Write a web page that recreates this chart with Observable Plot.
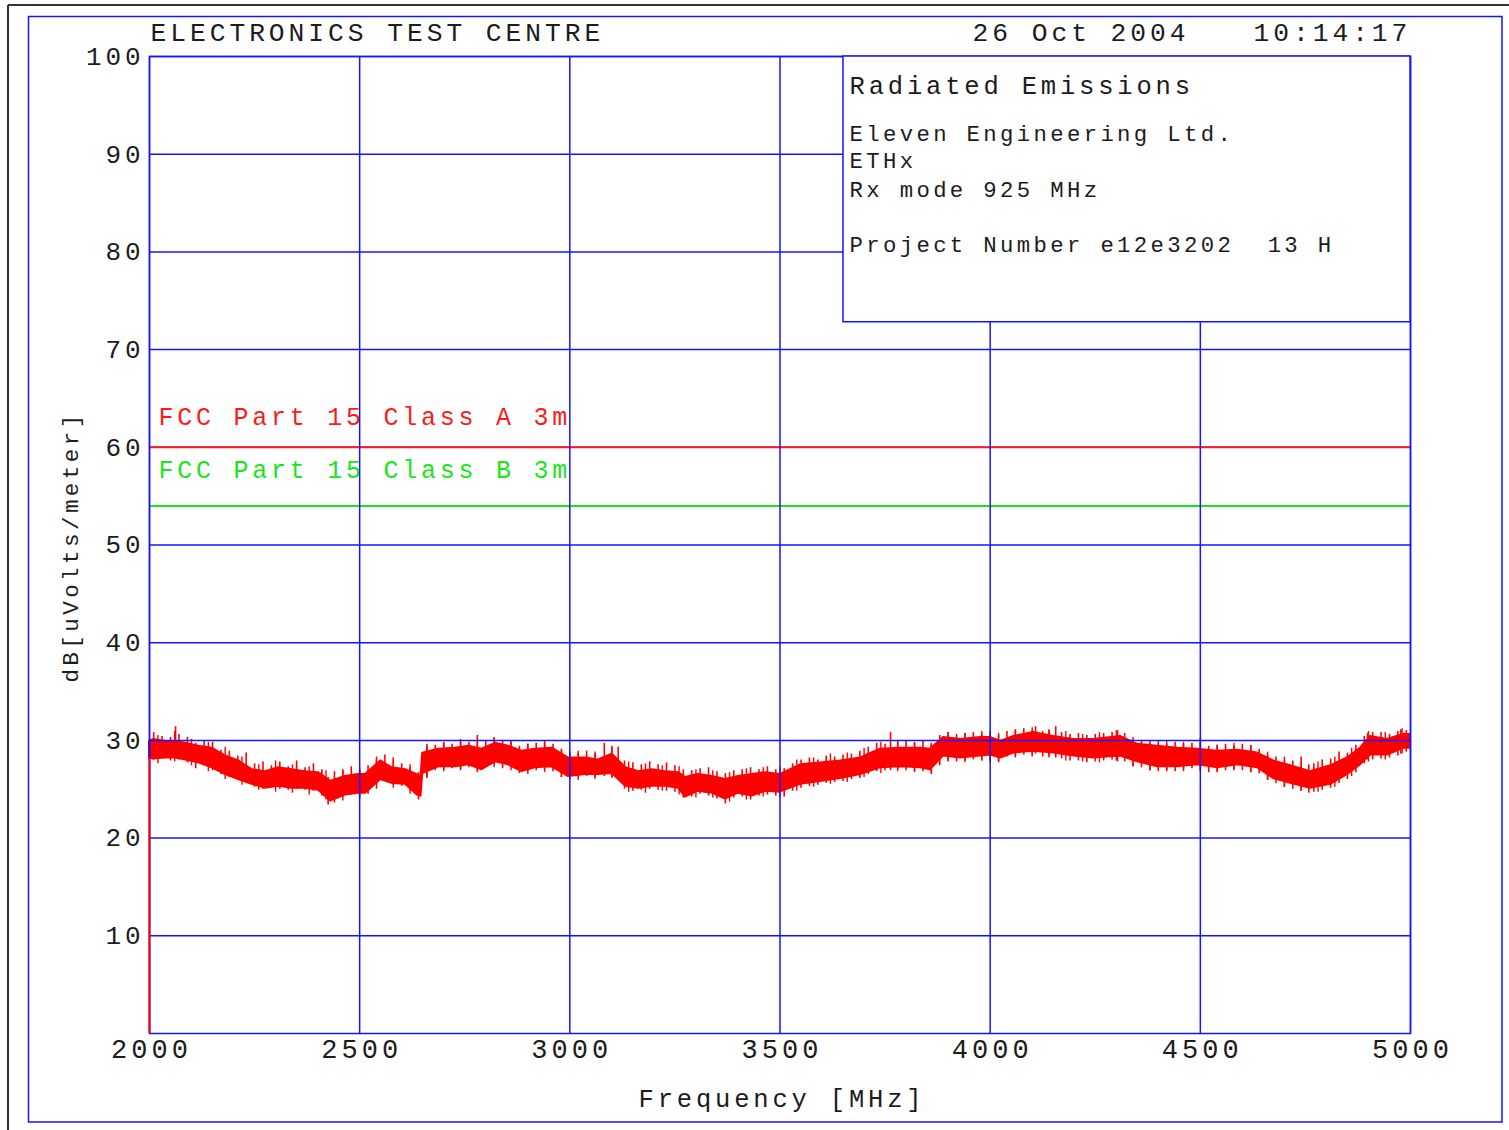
<!DOCTYPE html>
<html>
<head>
<meta charset="utf-8">
<script src="https://cdn.jsdelivr.net/npm/d3@7"></script>
<script src="https://cdn.jsdelivr.net/npm/@observablehq/plot@0.6"></script>
<style>
  html, body { margin: 0; padding: 0; background: #fff; overflow: hidden; }
  #chart svg { display: block; font-family: "Liberation Mono", "DejaVu Sans Mono", monospace; }
  #chart svg text { letter-spacing: 0.15em; white-space: pre; }
</style>
</head>
<body>
<div id="chart"></div>
<script>
// Radiated emissions sweep, 2-5 GHz: solid core of the receiver trace (dBuV/m)
const freqMHz = [2000, 2010, 2038, 2062, 2086, 2117, 2149, 2181, 2212, 2244, 2276, 2307, 2339, 2371, 2402, 2431, 2466, 2497,
  2514, 2550, 2577, 2609, 2637, 2646, 2650, 2688, 2728, 2760, 2791, 2823, 2854, 2886, 2918, 2958, 2997,
  3037, 3068, 3101, 3133, 3164, 3196, 3228, 3259, 3275, 3306, 3339, 3370, 3401, 3434, 3466, 3500,
  3549, 3596, 3644, 3692, 3739, 3787, 3834, 3858, 3889, 3930, 3977, 4001, 4025, 4056, 4103, 4151, 4199, 4246, 4310,
  4351, 4398, 4446, 4494, 4541, 4589, 4636, 4674, 4715, 4762, 4810, 4850, 4881, 4905, 4945, 4984, 5000];
const envLow = [28.2, 28.1, 28.2, 28.2, 28.0, 27.7, 27.2, 26.5, 26.0, 25.5, 25.1, 25.3, 25.1, 25.1, 24.9, 23.8, 24.4, 24.6,
  24.6, 26.0, 25.6, 25.5, 24.4, 24.3, 26.6, 27.3, 27.3, 27.5, 27.0, 27.8, 27.5, 26.8, 27.2, 27.3, 26.3,
  26.5, 26.5, 26.6, 25.3, 25.1, 25.3, 25.3, 25.1, 24.2, 24.8, 24.6, 24.0, 24.6, 24.3, 24.8, 24.7,
  25.5, 25.8, 26.1, 26.5, 27.2, 27.3, 27.2, 27.0, 28.4, 28.2, 28.4, 28.5, 28.2, 28.7, 28.9, 28.7, 28.4, 28.2, 28.4,
  27.8, 27.3, 27.3, 27.5, 27.2, 27.5, 27.2, 26.1, 25.6, 25.1, 25.5, 26.5, 27.5, 28.5, 28.5, 29.2, 29.2];
const envHigh = [29.9, 30.1, 29.9, 29.9, 29.7, 29.4, 29.2, 28.4, 27.9, 27.0, 26.8, 27.2, 27.0, 26.8, 26.7, 25.8, 26.3, 26.5,
  26.5, 27.9, 27.2, 27.0, 26.5, 26.3, 28.7, 29.1, 29.2, 29.4, 29.1, 29.7, 29.4, 28.9, 29.1, 29.2, 28.2,
  28.2, 28.0, 28.6, 27.2, 26.8, 27.0, 26.8, 26.7, 26.2, 26.5, 26.3, 26.0, 26.3, 26.5, 26.7, 26.5,
  27.5, 27.7, 27.9, 28.2, 29.1, 29.2, 29.2, 29.1, 30.3, 30.1, 30.3, 30.3, 29.9, 30.4, 30.8, 30.4, 30.1, 30.1, 30.4,
  29.6, 29.4, 29.2, 29.1, 28.9, 29.0, 28.7, 27.9, 27.4, 26.8, 27.4, 28.2, 29.2, 30.4, 30.1, 30.6, 30.6];

// Full vertical excursion of the noisy trace at sampled frequencies (min / max, dBuV/m)
const sweepFreq = [2010, 2030, 2050, 2062, 2070, 2090, 2110, 2130, 2150, 2170, 2190, 2210, 2230, 2250, 2270, 2290, 2310, 2330,
  2350, 2370, 2390, 2410, 2425, 2440, 2460, 2480, 2500, 2520, 2540, 2560, 2580, 2600, 2620, 2640, 2660, 2680, 2700,
  2720, 2740, 2760, 2780, 2800, 2820, 2840, 2860, 2880, 2900, 2920, 2940, 2960, 2980, 3000, 3020, 3040, 3060, 3082,
  3100, 3115, 3130, 3150, 3170, 3190, 3210, 3230, 3250, 3270, 3290, 3310, 3330, 3350, 3370, 3390, 3410, 3430, 3450,
  3470, 3490, 3510, 3530, 3550, 3570, 3590, 3610, 3630, 3650, 3670, 3690, 3710, 3730, 3750, 3763, 3780, 3800, 3820,
  3840, 3860, 3880, 3900, 3920, 3940, 3960, 3980, 4000, 4020, 4040, 4060, 4080, 4100, 4108, 4125, 4140, 4156, 4170,
  4190, 4210, 4230, 4250, 4270, 4290, 4303, 4320, 4340, 4360, 4380, 4400, 4420, 4440, 4460, 4480, 4500, 4520, 4540,
  4560, 4580, 4600, 4620, 4640, 4660, 4680, 4700, 4720, 4740, 4758, 4770, 4790, 4810, 4830, 4850, 4870, 4890, 4898,
  4910, 4930, 4950, 4970, 4977, 4990];
const sweepMin = [28.0, 28.6, 27.9, 28.2, 28.0, 27.7, 27.1, 27.6, 26.9, 26.5, 26.2, 25.9, 25.8, 25.2, 25.0, 25.3, 25.0, 24.9,
  25.0, 24.9, 24.8, 24.3, 23.4, 23.6, 24.2, 24.4, 24.3, 24.5, 25.4, 25.8, 25.4, 25.3, 24.8, 23.9, 26.1, 26.9, 27.0,
  27.1, 27.0, 27.2, 26.8, 27.3, 27.5, 27.1, 27.2, 26.6, 26.8, 26.9, 27.0, 26.8, 26.2, 26.0, 26.2, 26.3, 26.2, 26.3,
  26.2, 25.9, 25.0, 24.8, 24.9, 25.0, 24.9, 24.8, 24.7, 24.1, 24.2, 24.5, 24.3, 24.0, 23.5, 24.1, 24.2, 23.9, 24.3,
  24.4, 24.3, 24.2, 24.8, 25.1, 25.3, 25.4, 25.6, 25.7, 25.8, 26.0, 26.1, 26.5, 26.8, 26.9, 26.9, 27.0, 26.9, 26.8,
  26.8, 26.6, 27.4, 27.9, 27.8, 27.9, 28.0, 27.9, 27.8, 27.8, 28.3, 28.3, 28.5, 28.5, 28.6, 28.3, 28.4, 28.2, 28.1,
  27.9, 27.9, 27.7, 27.8, 27.9, 28.0, 27.8, 27.8, 27.3, 27.2, 26.9, 26.8, 26.9, 26.8, 27.0, 27.1, 26.9, 26.7, 26.8,
  26.9, 27.0, 26.9, 26.7, 26.6, 25.9, 25.6, 25.2, 25.0, 24.8, 24.6, 24.7, 24.9, 25.1, 25.6, 26.0, 26.7, 27.6, 28.0,
  28.0, 28.1, 28.2, 28.4, 28.6, 28.8];
const sweepMax = [30.8, 30.4, 30.3, 31.4, 30.6, 30.3, 29.7, 30.0, 29.8, 29.0, 28.9, 28.4, 28.7, 27.6, 27.8, 27.4, 27.8, 27.3,
  27.9, 27.2, 27.6, 27.0, 26.2, 26.8, 27.0, 27.3, 26.9, 27.4, 28.0, 28.5, 28.2, 27.6, 27.2, 26.7, 29.6, 29.5, 29.8,
  29.6, 29.9, 29.8, 30.5, 29.9, 30.2, 30.0, 29.8, 29.4, 29.6, 29.7, 29.8, 29.6, 29.0, 28.8, 28.7, 28.9, 28.6, 29.7,
  29.4, 29.3, 27.9, 27.7, 27.5, 27.8, 27.5, 27.7, 27.4, 27.0, 26.9, 27.1, 27.2, 26.8, 26.6, 26.9, 27.0, 27.2, 27.0,
  27.3, 27.0, 27.1, 27.6, 28.0, 28.2, 28.0, 28.4, 28.3, 28.5, 28.6, 28.9, 29.3, 29.7, 29.6, 30.8, 29.8, 29.9, 29.7,
  30.0, 29.6, 30.5, 30.8, 30.6, 30.7, 30.8, 30.6, 30.9, 30.5, 30.9, 31.0, 31.2, 31.0, 31.4, 30.9, 31.0, 31.4, 30.8,
  30.6, 30.7, 30.5, 30.6, 30.7, 30.8, 31.0, 30.7, 30.1, 30.0, 29.7, 29.9, 29.6, 29.8, 29.6, 29.7, 30.2, 29.4, 29.5,
  29.6, 29.4, 29.6, 29.5, 29.1, 28.5, 28.3, 27.9, 27.9, 28.3, 27.5, 27.6, 28.0, 28.1, 28.8, 28.7, 29.5, 30.4, 30.7,
  30.8, 30.8, 30.6, 30.9, 31.1, 31.0];

// Further excursions between the samples above (min / max, dBuV/m)
const sweepFreqB = [2020, 2060, 2100, 2140, 2180, 2220, 2260, 2300, 2340, 2380, 2420, 2460, 2500, 2540, 2580, 2620, 2660, 2700,
  2740, 2780, 2820, 2860, 2900, 2940, 2980, 3020, 3060, 3100, 3140, 3180, 3220, 3260, 3300, 3340, 3380, 3420, 3460,
  3500, 3540, 3580, 3620, 3660, 3700, 3740, 3780, 3820, 3860, 3900, 3940, 3980, 4020, 4060, 4100, 4140, 4180, 4220,
  4260, 4300, 4340, 4380, 4420, 4460, 4500, 4540, 4580, 4620, 4660, 4700, 4740, 4780, 4820, 4860, 4900, 4940, 4980];
const sweepMinB = [27.6, 27.8, 27.4, 26.8, 26.0, 25.4, 24.9, 24.7, 24.6, 24.4, 23.9, 23.8, 24.0, 25.0, 25.1, 24.5, 26.2, 26.8,
  26.9, 26.7, 27.2, 26.9, 26.5, 26.7, 26.2, 25.9, 26.0, 26.1, 24.7, 24.6, 24.8, 24.4, 24.1, 24.1, 23.7, 23.9, 24.2,
  24.1, 24.8, 25.2, 25.5, 25.7, 26.2, 26.6, 26.8, 26.7, 26.5, 27.8, 27.7, 27.9, 27.7, 28.2, 28.3, 28.2, 27.9, 27.8,
  27.7, 27.9, 27.3, 26.9, 26.8, 26.8, 26.9, 26.7, 26.9, 26.7, 25.9, 25.2, 24.8, 24.7, 25.2, 26.3, 27.8, 28.0, 28.6];
const sweepMaxB = [30.5, 30.9, 30.1, 29.8, 29.3, 28.3, 27.5, 27.9, 27.5, 27.3, 26.9, 26.8, 27.1, 28.3, 27.9, 27.5, 29.3, 29.7,
  30.1, 29.8, 30.3, 30.0, 29.6, 29.9, 29.1, 28.9, 28.8, 29.2, 27.8, 27.6, 27.4, 27.3, 27.0, 26.9, 26.7, 27.1, 27.2,
  27.2, 28.0, 28.2, 28.6, 28.7, 29.2, 29.8, 29.9, 29.8, 29.7, 30.8, 30.7, 30.9, 30.7, 31.1, 31.3, 31.1, 30.9, 30.6,
  30.8, 31.0, 30.3, 30.0, 29.9, 29.8, 29.7, 29.5, 29.7, 29.4, 28.8, 28.3, 27.7, 27.8, 28.3, 29.2, 30.9, 30.8, 31.2];

// Limit lines
const limitNames = ["FCC Part 15 Class A 3m", "FCC Part 15 Class B 3m"];
const limitLevels = [60, 54];
const limitColors = ["#ff1a1a", "#19e619"];

// Axes and annotations
const xTicks = [2000, 2500, 3000, 3500, 4000, 4500, 5000];
const yTicks = [10, 20, 30, 40, 50, 60, 70, 80, 90, 100];
const xLabel = "Frequency [MHz]";
const yLabel = "dB[uVolts/meter]";
const headerLeft = "ELECTRONICS TEST CENTRE";
const headerDate = "26 Oct 2004";
const headerTime = "10:14:17";
const infoTitle = "Radiated Emissions";
const infoLines = ["Eleven Engineering Ltd.", "ETHx", "Rx mode 925 MHz", "Project Number e12e3202  13 H"];

const trace = freqMHz.map((f, i) => ({f, lo: envLow[i], hi: envHigh[i]}));
const sweep = sweepFreq.map((f, i) => ({f, a: sweepMin[i], b: sweepMax[i]}));
const sweepB = sweepFreqB.map((f, i) => ({f, a: sweepMinB[i], b: sweepMaxB[i]}));
const limits = limitNames.map((name, i) => ({name, level: limitLevels[i], color: limitColors[i]}));

const BLUE = "#1414ff";
const RED = "#ff0000";
const INK = "#1c1c1c";
const infoDy = [77, 104, 133, 188];
const limitLabelDy = [-30, -36];

const plot = Plot.plot({
  width: 1509,
  height: 1130,
  marginTop: 56,
  marginRight: 99,
  marginBottom: 97,
  marginLeft: 149,
  x: {domain: [2000, 5000]},
  y: {domain: [0, 100]},
  marks: [
    // receiver trace: solid core plus the vertical noise excursions
    Plot.areaY(trace, {x: "f", y1: "lo", y2: "hi", fill: RED, stroke: RED, strokeWidth: 2, curve: "linear"}),
    Plot.ruleX(sweep, {x: "f", y1: "a", y2: "b", stroke: RED, strokeWidth: 1.6}),
    Plot.ruleX(sweepB, {x: "f", y1: "a", y2: "b", stroke: RED, strokeWidth: 1.4}),
    // horizontal grid
    Plot.ruleY(yTicks, {stroke: BLUE, strokeWidth: 1.5}),
    // limit lines and their labels
    Plot.ruleY(limits, {y: "level", stroke: "color", strokeWidth: 2}),
    ...limits.map((d, i) => Plot.text([d], {
      x: () => 2000, y: "level", text: "name", fill: "color",
      textAnchor: "start", lineAnchor: "middle", dx: 9, dy: limitLabelDy[i], fontSize: 25
    })),
    // vertical grid and frame
    Plot.ruleX(xTicks, {stroke: BLUE, strokeWidth: 1.5}),
    Plot.frame({stroke: BLUE, strokeWidth: 1.5}),
    // trace lead-in from the floor at the start frequency
    Plot.ruleX([trace[0]], {x: "f", y1: 0, y2: "lo", stroke: RED, strokeWidth: 2}),
    // information box
    Plot.rect([{x1: 3651, x2: 5000, y1: 72.8, y2: 100}], {x1: "x1", x2: "x2", y1: "y1", y2: "y2", fill: "white", stroke: BLUE, strokeWidth: 1.5}),
    Plot.text([infoTitle], {frameAnchor: "top-left", dx: 700, dy: 29, textAnchor: "start", lineAnchor: "middle", fontSize: 25.5, fill: INK}),
    ...infoLines.map((t, i) => Plot.text([t], {frameAnchor: "top-left", dx: 700, dy: infoDy[i], textAnchor: "start", lineAnchor: "middle", fontSize: 22.3, fill: INK})),
    // header
    Plot.text([headerLeft], {frameAnchor: "top-left", dx: 1, dy: -24, textAnchor: "start", lineAnchor: "middle", fontSize: 26.3, fill: INK}),
    Plot.text([headerDate], {frameAnchor: "top-left", dx: 823, dy: -24, textAnchor: "start", lineAnchor: "middle", fontSize: 26.3, fill: INK}),
    Plot.text([headerTime], {frameAnchor: "top-left", dx: 1104, dy: -24, textAnchor: "start", lineAnchor: "middle", fontSize: 26.3, fill: INK}),
    // axes
    Plot.axisX({ticks: xTicks, tickSize: 0, tickPadding: 5, dx: 2, fontSize: 27, fill: INK, label: null, tickFormat: d => String(d)}),
    Plot.axisY({ticks: yTicks, tickSize: 0, tickPadding: 5, fontSize: 26, fill: INK, label: null, tickFormat: d => String(d)}),
    Plot.text([xLabel], {frameAnchor: "bottom", dy: 65, dx: 2, textAnchor: "middle", lineAnchor: "middle", fontSize: 25.5, fill: INK}),
    Plot.text([yLabel], {frameAnchor: "left", dx: -79, dy: 2, rotate: -90, textAnchor: "middle", lineAnchor: "middle", fontSize: 22.6, fill: INK})
  ]
});

document.getElementById("chart").appendChild(plot);

// page frames around the plot
const svg = d3.select(plot);
svg.insert("rect", ":first-child")
  .attr("x", 28.5).attr("y", 16.5).attr("width", 1473.5).attr("height", 1105.5)
  .attr("fill", "none").attr("stroke", BLUE).attr("stroke-width", 1.5);
svg.insert("line", ":first-child")
  .attr("x1", 8).attr("y1", 5).attr("x2", 1509).attr("y2", 5)
  .attr("stroke", "#333").attr("stroke-width", 2);
svg.insert("line", ":first-child")
  .attr("x1", 8).attr("y1", 5).attr("x2", 8).attr("y2", 1130)
  .attr("stroke", "#333").attr("stroke-width", 2);
</script>
</body>
</html>
